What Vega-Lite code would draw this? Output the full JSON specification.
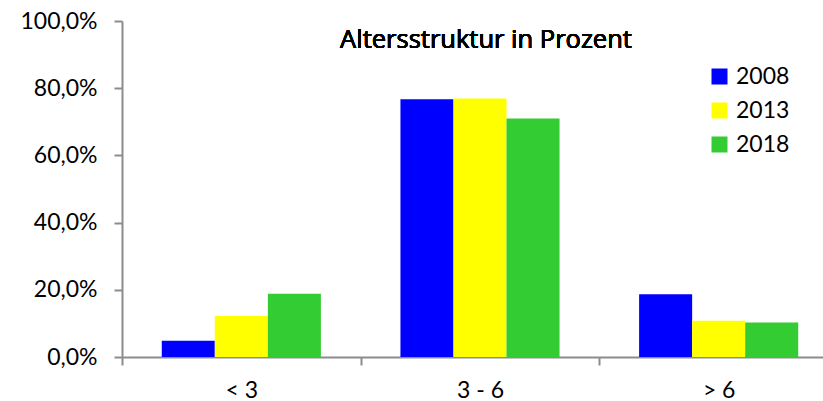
{
  "$schema": "https://vega.github.io/schema/vega-lite/v6.json",
  "width": 701,
  "height": 336,
  "autosize": {"type": "none"},
  "padding": {"left": 122, "top": 21, "right": 0, "bottom": 44},
  "background": "white",
  "data": {
    "values": [
      {"group": "< 3", "year": "2008", "value": 4.8},
      {"group": "< 3", "year": "2013", "value": 12.2},
      {"group": "< 3", "year": "2018", "value": 18.8},
      {"group": "3 - 6", "year": "2008", "value": 76.7},
      {"group": "3 - 6", "year": "2013", "value": 76.9},
      {"group": "3 - 6", "year": "2018", "value": 71.0},
      {"group": "> 6", "year": "2008", "value": 18.7},
      {"group": "> 6", "year": "2013", "value": 10.8},
      {"group": "> 6", "year": "2018", "value": 10.3}
    ]
  },
  "layer": [
    {
      "mark": {"type": "bar"},
      "encoding": {
        "x": {
          "field": "group",
          "type": "nominal",
          "sort": ["< 3", "3 - 6", "> 6"],
          "scale": {"range": [0, 716], "paddingInner": 0, "paddingOuter": 0},
          "axis": {
            "title": null,
            "tickBand": "extent",
            "labelAngle": 0,
            "labelFont": "Lato",
            "labelFontSize": 23,
            "labelColor": "#000000",
            "labelPadding": 14,
            "tickSize": 8,
            "tickColor": "#8c8c8c",
            "tickWidth": 2,
            "domainColor": "#8c8c8c",
            "domainWidth": 2,
            "grid": false
          }
        },
        "xOffset": {
          "field": "year",
          "type": "nominal",
          "scale": {"paddingInner": 0, "paddingOuter": 0.75}
        },
        "y": {
          "field": "value",
          "type": "quantitative",
          "scale": {"domain": [0, 100]},
          "axis": {
            "title": null,
            "values": [0, 20, 40, 60, 80, 100],
            "labelExpr": "replace(format(datum.value, '.1f'), '.', ',') + '%'",
            "labelFont": "Lato",
            "labelFontSize": 23,
            "labelColor": "#000000",
            "labelPadding": 17,
            "tickSize": 8,
            "tickColor": "#8c8c8c",
            "tickWidth": 2,
            "domainColor": "#8c8c8c",
            "domainWidth": 2,
            "grid": false
          }
        },
        "color": {
          "field": "year",
          "type": "nominal",
          "scale": {"domain": ["2008", "2013", "2018"], "range": ["#0000FF", "#FFFF00", "#33CC33"]},
          "legend": {
            "title": null,
            "orient": "none",
            "legendX": 586,
            "legendY": 44,
            "padding": 0,
            "symbolType": "square",
            "symbolSize": 256,
            "symbolStrokeWidth": 0,
            "labelFont": "Lato",
            "labelFontSize": 23,
            "labelColor": "#000000",
            "labelOffset": 5,
            "rowPadding": 10
          }
        }
      }
    },
    {
      "mark": {
        "type": "text",
        "text": "Altersstruktur in Prozent",
        "font": "Open Sans",
        "fontSize": 25.5,
        "fontWeight": 400,
        "fill": "#000000",
        "align": "center",
        "baseline": "alphabetic",
        "dx": 6
      },
      "encoding": {
        "x": {"datum": "3 - 6", "type": "nominal"},
        "y": {"datum": 92, "type": "quantitative"}
      }
    }
  ],
  "config": {"view": {"stroke": null}}
}
